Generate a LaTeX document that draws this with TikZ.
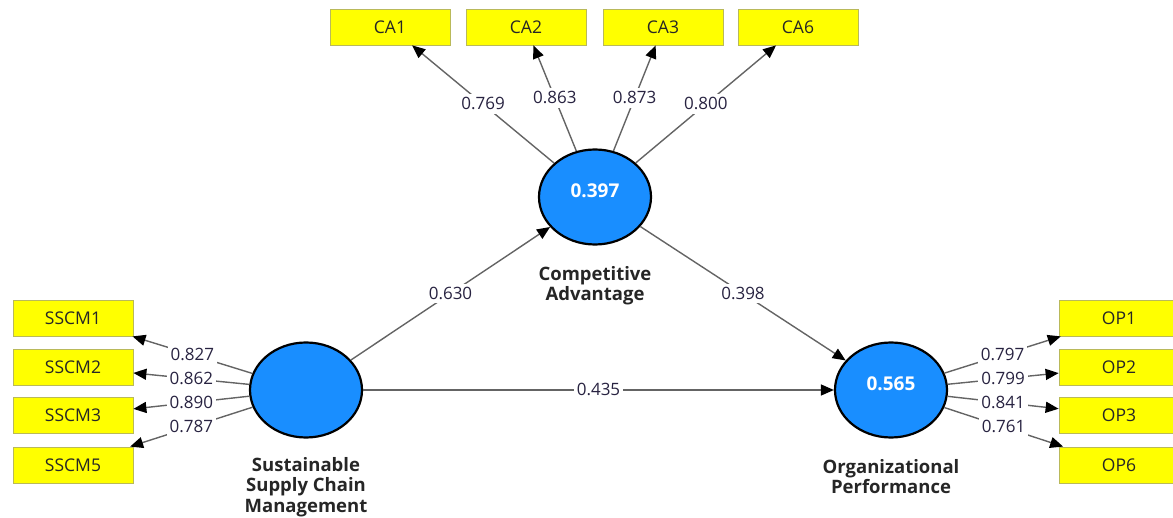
\documentclass[tikz,border=0pt]{standalone}
\usepackage{fontspec}
\setmainfont{Open Sans}
\usetikzlibrary{arrows.meta,calc,shapes.geometric}
\definecolor{lvblue}{RGB}{25,142,255}
\definecolor{mvyellow}{RGB}{255,255,0}
\definecolor{mvborder}{RGB}{185,185,90}
\definecolor{pathgray}{RGB}{100,100,100}
\definecolor{labtext}{RGB}{40,35,65}
\begin{document}
\begin{tikzpicture}[x=1pt,y=-1pt,
  indicator/.style={draw=mvborder, fill=mvyellow, line width=0.8pt,
    minimum width=120pt, minimum height=36pt, inner sep=0pt,
    font=\fontsize{17.5}{20}\selectfont, text=black!85},
  latent/.style={ellipse, draw=black, line width=2.2pt, fill=lvblue,
    minimum width=112pt, minimum height=95pt, inner sep=0pt, text=white,
    font=\bfseries\fontsize{19}{22}\selectfont, text depth=13pt},
  lvname/.style={anchor=north, align=center, inner sep=0pt,
    font=\bfseries\fontsize{18.5}{20.5}\selectfont, text=black!85},
  coef/.style={fill=white, inner xsep=3pt, inner ysep=3pt, text height=12.5pt, text depth=1pt,
    font=\fontsize{17}{20}\selectfont, text=labtext},
  conn/.style={draw=pathgray, line width=1.4pt,
    -{Triangle[length=13pt,width=11pt,color=black]}}
]
\useasboundingbox (0,0) rectangle (1173,518);
\clip (0,0) rectangle (1173,518);

% latent variables
\node[latent] (sscm) at (306,390) {};
\node[latent] (ca) at (595,197) {0.397};
\node[latent] (op) at (891,390) {0.565};

\node[lvname] (sscmname) at (306,457) {Sustainable\\Supply Chain\\Management};
\node[lvname] (caname) at (595,266) {Competitive\\Advantage};
\node[lvname] (opname) at (891,459) {Organizational\\Performance};

% indicators
\node[indicator] (ca1) at (390,27) {CA1};
\node[indicator] (ca2) at (526,27) {CA2};
\node[indicator] (ca3) at (663,27) {CA3};
\node[indicator] (ca6) at (798,27) {CA6};

\node[indicator] (s1) at (73,318) {SSCM1};
\node[indicator] (s2) at (73,367) {SSCM2};
\node[indicator] (s3) at (73,415.5) {SSCM3};
\node[indicator] (s5) at (73,465) {SSCM5};

\node[indicator] (o1) at (1119,318) {OP1};
\node[indicator] (o2) at (1119,367) {OP2};
\node[indicator] (o3) at (1119,415.5) {OP3};
\node[indicator] (o6) at (1119,465) {OP6};

% structural paths
\draw[conn] (sscm) -- node[coef]{0.630} (ca);
\draw[conn] (ca) -- node[coef]{0.398} (op);
\draw[conn] (sscm) -- node[coef]{0.435} (op);

% outer loadings
\draw[conn] (ca) -- node[coef]{0.769} (ca1);
\draw[conn] (ca) -- node[coef]{0.863} (ca2);
\draw[conn] (ca) -- node[coef]{0.873} (ca3);
\draw[conn] (ca) -- node[coef]{0.800} (ca6);

\draw[conn] (sscm) -- node[coef]{0.827} (s1);
\draw[conn] (sscm) -- node[coef]{0.862} (s2);
\draw[conn] (sscm) -- node[coef]{0.890} (s3);
\draw[conn] (sscm) -- node[coef]{0.787} (s5);

\draw[conn] (op) -- node[coef]{0.797} (o1);
\draw[conn] (op) -- node[coef]{0.799} (o2);
\draw[conn] (op) -- node[coef]{0.841} (o3);
\draw[conn] (op) -- node[coef]{0.761} (o6);
\end{tikzpicture}
\end{document}
